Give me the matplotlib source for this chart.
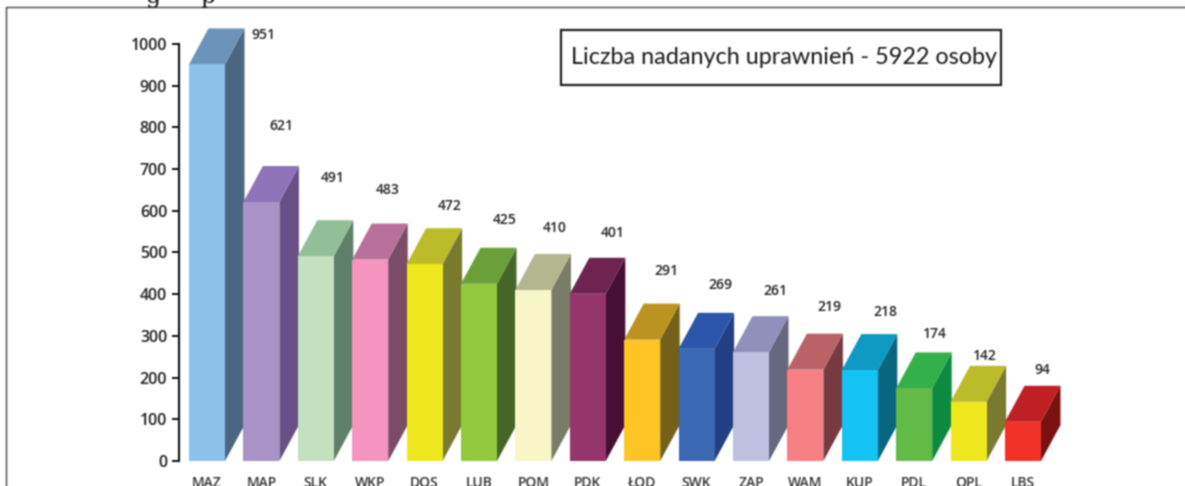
import matplotlib.pyplot as plt
import numpy as np
from matplotlib.patches import Polygon, Rectangle

W, H = 1185, 486

regions = ["MAZ", "MAP", "SLK", "WKP", "DOS", "LUB", "POM", "PDK", "ŁOD", "SWK", "ZAP", "WAM", "KUP", "PDL", "OPL", "LBS"]
values = [951, 621, 491, 483, 472, 425, 410, 401, 291, 269, 261, 219, 218, 174, 142, 94]

front = ["#8dc0ea", "#a992c6", "#c3e0bf", "#f595bf", "#f0e81e", "#92c83e", "#f8f6c6", "#94366b",
         "#fec524", "#3b68b2", "#bfc0e0", "#f68084", "#14c2f4", "#62ba47", "#f0e81e", "#f03228"]
top = ["#6c94bb", "#8f73b8", "#92bf98", "#b9709a", "#bcbc2a", "#6b9f3a", "#b4b690", "#6e2350",
       "#bb9320", "#2a55a8", "#9091bb", "#bb6266", "#0e9ac2", "#33b04a", "#bcbc2a", "#c02024"]
side = ["#4b6680", "#665086", "#5f8068", "#7a4c66", "#7a7a2e", "#466628", "#797c66", "#451033",
        "#75601a", "#223f86", "#666880", "#773a40", "#0a6680", "#0c8a40", "#7a7a2e", "#7a1010"]

# where the value labels sit, the source chart has them scattered (pixels)
label_x = [263, 281, 333, 388, 450, 505, 555, 613, 666, 720, 775, 829, 885, 935, 985, 1042]
label_y = [35, 126, 178, 190, 206, 220, 228, 233, 271, 285, 291, 307, 312, 334, 356, 370]

yticks = list(range(0, 1001, 100))


def soften(im, dpi):
    # the reference is an upscaled scan, so smear everything a little
    # edge padding keeps the canvas border from going dark
    p = np.pad(im, ((1, 1), (1, 1), (0, 0)), mode="edge")
    out = (p[:-2, 1:-1] + 2 * p[1:-1, 1:-1] + p[2:, 1:-1]) / 4
    p = np.pad(out, ((0, 0), (1, 1), (0, 0)), mode="edge")
    out = (p[:, :-2] + 2 * p[:, 1:-1] + p[:, 2:]) / 4
    return out, 0, 0


plt.rcParams["font.family"] = ["Open Sans", "DejaVu Sans"]
fig = plt.figure(figsize=(W / 100, H / 100), dpi=100)

# axes box: left edge is the value axis, 0 at y=461px, 1000 at y=44px
pitch = 54.4
x0 = 207
left, bottom, top_px = 179, 461, 44
ax = fig.add_axes([left / W, (H - bottom) / H, (W - left - 5) / W, (bottom - top_px) / H])
ax.set_ylim(0, 1000)
ax.set_xlim((left - x0) / pitch, (W - 5 - x0) / pitch)
ax.patch.set_alpha(0)

half = 18 / pitch
dx = 19.5 / pitch
dy = 36 / 0.417

for i, v in enumerate(values):
    xa, xb = i - half, i + half
    # later bars are drawn over the side of the one before
    ax.add_patch(Polygon([(xb, 0), (xb + dx, dy), (xb + dx, v + dy), (xb, v)], color=side[i], lw=0, clip_on=False, zorder=2 + i))
    ax.add_patch(Polygon([(xa, v), (xb, v), (xb + dx, v + dy), (xa + dx, v + dy)], color=top[i], lw=0, clip_on=False, zorder=2 + i))
    ax.add_patch(Rectangle((xa, 0), xb - xa, v, color=front[i], lw=0, clip_on=False, zorder=2 + i))
    ax.text(i, -53, regions[i], ha="center", va="center", fontsize=10, fontweight=600, color="#333333", clip_on=False)
    fig.text(label_x[i] / W, 1 - label_y[i] / H, str(v), ha="center", va="center", fontsize=10, fontweight=600, color="#222222")

for s in ["top", "right", "bottom"]:
    ax.spines[s].set_visible(False)
ax.spines["left"].set_linewidth(1.5)
ax.spines["left"].set_color("#111111")
ax.set_xticks([])
ax.set_yticks(yticks)
ax.tick_params(axis="y", length=5, width=1.4, color="#111111", labelsize=11.5, labelcolor="#222222", pad=3.5)
for t in ax.get_yticklabels():
    t.set_fontweight(600)

# title box
fig.patches.append(Rectangle((561 / W, 1 - 85 / H), 440 / W, 55 / H, transform=fig.transFigure,
                             fc="white", ec="#222222", lw=1.6))
fig.text(784 / W, 1 - 57 / H, "Liczba nadanych uprawnień - 5922 osoby", ha="center", va="center",
         fontsize=16.8, color="#1a1a1a", family=["Lato", "DejaVu Sans"])

# page frame: left and top only, the right side runs off the crop
fig.add_artist(plt.Line2D([6 / W, 6 / W, 1], [0, 1 - 7.5 / H, 1 - 7.5 / H], color="#444444", lw=1))

# bits of the page text above the frame, cut off by the crop
fig.text(153 / W, 1 + 4 / H, "g", ha="center", va="center", fontsize=17, family="DejaVu Serif", color="#111111")
fig.text(208 / W, 1 + 4 / H, "p", ha="center", va="center", fontsize=17, family="DejaVu Serif", color="#111111")

fig.set_agg_filter(soften)
fig.savefig("out.png", dpi=100)
